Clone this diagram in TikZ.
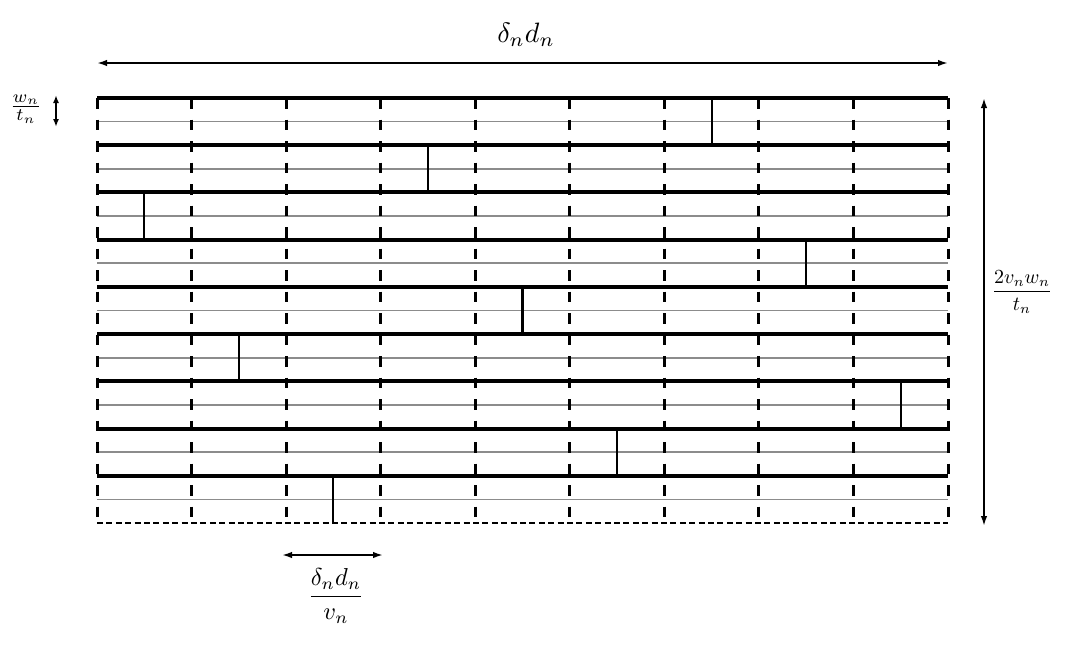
\documentclass[tikz,border=0pt]{standalone}
\usepackage{amsmath}
\usetikzlibrary{arrows.meta}
\begin{document}
\begin{tikzpicture}[x=1pt,y=-1pt,
  thickline/.style={line width=4pt},
  grayline/.style={line width=1.6pt, color=black!45},
  vdash/.style={line width=3pt, dash pattern=on 10.5pt off 11pt},
  bdash/.style={line width=2.6pt, dash pattern=on 6pt off 3.4pt},
  wall/.style={line width=2.2pt},
  dim/.style={line width=1.8pt, {Latex[length=10pt,width=6.5pt]}-{Latex[length=10pt,width=6.5pt]}},
  lab/.style={inner sep=0pt}]
\useasboundingbox (0,0) rectangle (1078,646);
\def\L{97}\def\R{948}\def\T{98}\def\H{47.222}\def\W{94.556}
% thin gray mid lines
\foreach \i in {0,...,8}
  \draw[grayline] (\L,{\T+(\i+0.5)*\H}) -- (\R,{\T+(\i+0.5)*\H});
% thick row lines
\foreach \i in {0,...,8}
  \draw[thickline] (\L,{\T+\i*\H}) -- (\R,{\T+\i*\H});
% bottom dashed line
\draw[bdash] (\L,{\T+9*\H}) -- (\R,{\T+9*\H});
% vertical dashed lines
\foreach \j in {0,...,9}
  \draw[vdash] ({\L+\j*\W},\T) -- ({\L+\j*\W},{\T+9*\H});
% solid walls
\foreach \r/\c in {0/6.5,1/3.5,2/0.5,3/7.5,4/4.5,5/1.5,6/8.5,7/5.5,8/2.5}
  \draw[wall] ({\L+\c*\W},{\T+\r*\H}) -- ({\L+\c*\W},{\T+(\r+1)*\H});
% dimension arrows
\coordinate (tl) at (97,63);
\coordinate (tr) at (948,63);
\draw[dim] (tl) -- (tr);
\node[lab, scale=2.8] (toplab) at (526,35) {$\delta_n d_n$};

\coordinate (lt) at (56,95);
\coordinate (lb) at (56,127);
\draw[dim, line width=2.2pt, {Latex[length=8pt,width=6pt]}-{Latex[length=8pt,width=6pt]}] (lt) -- (lb);
\node[lab, scale=2.5] (leftlab) at (26,109) {$\tfrac{w_n}{t_n}$};

\coordinate (rt) at (984,98);
\coordinate (rb) at (984,526);
\draw[dim] (rt) -- (rb);
\node[lab, scale=2.0] (rightlab) at (1022,292) {$\dfrac{2v_nw_n}{t_n}$};

\coordinate (bl) at (282,555);
\coordinate (br) at (383,555);
\draw[dim] (bl) -- (br);
\node[lab, scale=2.45] (botlab) at (336,596) {$\dfrac{\delta_nd_n}{v_n}$};
\end{tikzpicture}
\end{document}
